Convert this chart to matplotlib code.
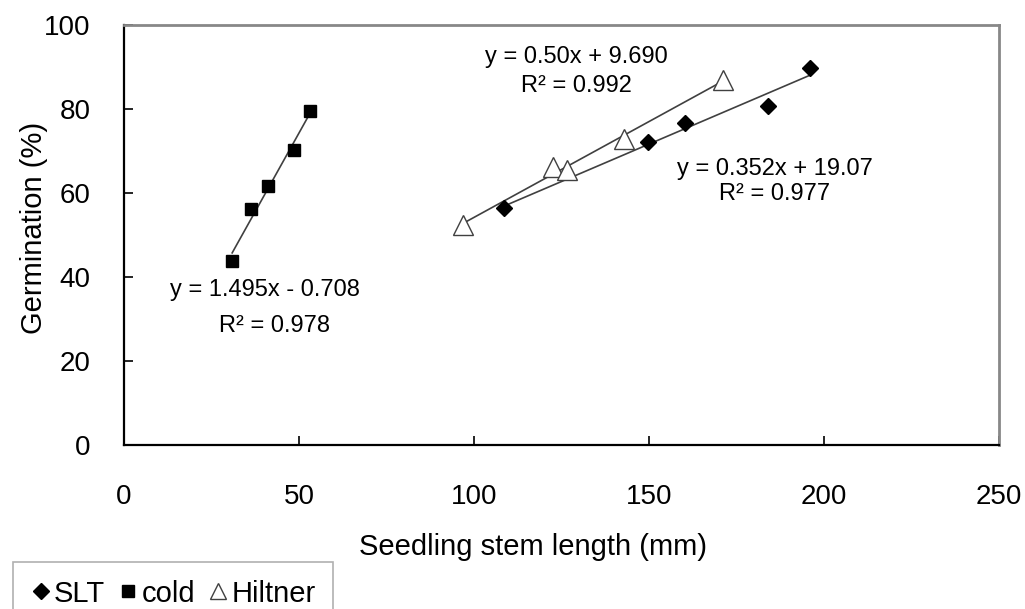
import matplotlib.pyplot as plt
import numpy as np
from matplotlib.lines import Line2D

plt.rcParams['font.family'] = ['Liberation Sans', 'DejaVu Sans']

# values
slt_x = [108.6, 149.8, 160.3, 184.1, 196.0]
slt_y = [56.5, 72.1, 76.6, 80.7, 89.7]

cold_x = [30.9, 36.2, 41.1, 48.6, 53.1]
cold_y = [43.8, 56.2, 61.7, 70.3, 79.5]

hilt_x = [96.9, 122.5, 126.5, 142.9, 171.1]
hilt_y = [52.4, 66.3, 65.5, 72.8, 86.9]

eq_cold = ['y = 1.495x - 0.708', 'R² = 0.978']
eq_hilt = ['y = 0.50x + 9.690', 'R² = 0.992']
eq_slt = ['y = 0.352x + 19.07', 'R² = 0.977']

line_col = '#404040'

fig = plt.figure(figsize=(10.25, 6.09), dpi=100)
ax = fig.add_axes([0.121, 0.2693, 0.8536, 0.6897])


def trend(xs, ys):
    xs = np.asarray(xs)
    k, b = np.polyfit(xs, ys, 1)
    xx = np.array([xs.min(), xs.max()])
    ax.plot(xx, k * xx + b, color=line_col, lw=1.2, zorder=2)


trend(slt_x, slt_y)
trend(cold_x, cold_y)
trend(hilt_x, hilt_y)

ax.plot(slt_x, slt_y, 'D', ms=8, color='black', ls='none', zorder=3)
ax.plot(cold_x, cold_y, 's', ms=8, color='black', ls='none', zorder=3)
ax.plot(hilt_x, hilt_y, '^', ms=14, mfc='white', mec=line_col, mew=1.0,
        ls='none', zorder=3)

# equation labels
eq_fs = 17
ax.text(40.3, 35.5, eq_cold[0], ha='center', va='baseline', fontsize=eq_fs)
ax.text(42.9, 27.0, eq_cold[1], ha='center', va='baseline', fontsize=eq_fs)
ax.text(129.3, 90.9, eq_hilt[0], ha='center', va='baseline', fontsize=eq_fs)
ax.text(129.3, 84.1, eq_hilt[1], ha='center', va='baseline', fontsize=eq_fs)
ax.text(186.0, 64.3, eq_slt[0], ha='center', va='baseline', fontsize=eq_fs)
ax.text(186.0, 58.3, eq_slt[1], ha='center', va='baseline', fontsize=eq_fs)

ax.set_xlim(0, 250)
ax.set_ylim(0, 100)
ax.set_xticks(np.arange(0, 251, 50))
ax.set_yticks(np.arange(0, 101, 20))
ax.tick_params(direction='in', length=6.5, width=1.2, labelsize=20,
               top=False, right=False)
ax.tick_params(axis='x', pad=28)
ax.tick_params(axis='y', pad=24)

for s in ['left', 'bottom']:
    ax.spines[s].set_color('black')
    ax.spines[s].set_linewidth(1.6)
for s in ['top', 'right']:
    ax.spines[s].set_color('#888888')
    ax.spines[s].set_linewidth(2.0)

ax.set_xlabel('Seedling stem length (mm)', fontsize=21)
ax.set_ylabel('Germination (%)', fontsize=21)
ax.xaxis.set_label_coords(0.467, -0.21)
ax.yaxis.set_label_coords(-0.087, 0.517)

handles = [
    Line2D([], [], marker='D', ms=8, color='black', ls='none'),
    Line2D([], [], marker='s', ms=8, color='black', ls='none'),
    Line2D([], [], marker='^', ms=12, mfc='white', mec=line_col, mew=1.0, ls='none'),
]
leg = fig.legend(handles, ['SLT', 'cold', 'Hiltner'], loc='upper left',
                 bbox_to_anchor=(13 / 1025, (609 - 562) / 609),
                 borderaxespad=0,
                 ncol=3, fontsize=21, handlelength=0.7, handletextpad=0.1,
                 columnspacing=0.45, borderpad=0.6, fancybox=False,
                 framealpha=1, edgecolor='#b0b0b0')
leg.get_frame().set_linewidth(1.2)

fig.savefig('out.png', dpi=100)
